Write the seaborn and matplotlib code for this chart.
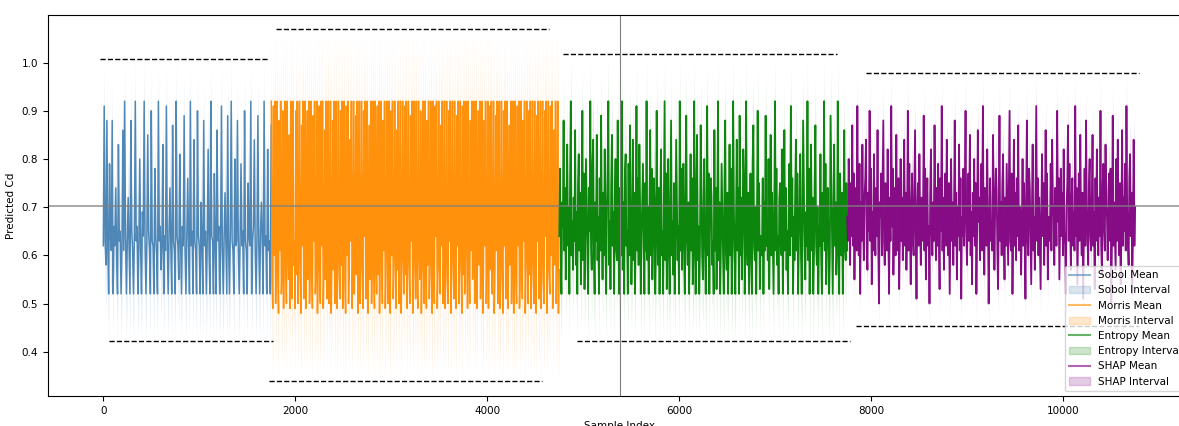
import numpy as np
import pandas as pd
import matplotlib
matplotlib.use("Agg")
import matplotlib.pyplot as plt
import seaborn as sns
from matplotlib.lines import Line2D
from matplotlib.patches import Patch

# ---------------- data (in hundredths) ----------------
methods = ["Sobol", "Morris", "Entropy", "SHAP"]
colors = ["steelblue", "darkorange", "green", "purple"]

# sample-index range covered by each method
seg_start = [0, 1750, 4750, 7750]
seg_end = [1749, 4749, 7749, 10749]

sobol_mean = [62, 91, 63, 58, 88, 62, 52, 79, 64, 61, 88, 52, 66, 62, 74, 60, 52, 83, 63, 65,
              52, 62, 86, 61, 92, 64, 52, 63, 72, 62, 52, 88, 65, 61, 52, 64, 92, 63, 66, 52,
              62, 80, 61, 52, 69, 64, 92, 62, 52, 63, 85, 65, 61, 52, 90, 63, 62, 52, 78, 64,
              60, 52, 92, 63, 66, 57, 62, 83, 52, 64, 61, 91, 63, 52, 65, 74, 62, 52, 87, 63,
              61, 52, 92, 64, 62, 55, 81, 63, 52, 66, 62, 89, 61, 52, 64, 76, 63, 52, 92, 62,
              65, 52, 84, 63, 61, 52, 90, 64, 62, 52, 71, 63, 52, 88, 62, 65, 52, 63, 82, 61,
              52, 92, 64, 63, 52, 77, 62, 52, 86, 63, 66, 52, 62, 91, 61, 52, 64, 73, 63, 52,
              89, 62, 52, 65, 92, 63, 61, 52, 80, 62,
              63, 88, 61, 52, 64, 79, 62, 65, 52, 90, 63, 61, 52, 75, 64, 62, 92, 52, 63, 66,
              84, 61, 52, 64, 89, 62, 52, 65, 71, 63, 52, 92, 62, 64, 52, 82, 61, 63, 52, 87]

morris_mean = [92, 55, 49, 91, 60, 92, 50, 63, 92, 58, 48, 88, 61, 92, 52, 57, 90, 49, 64, 92,
               59, 50, 92, 62, 55, 85, 49, 92, 60, 51, 92, 58, 63, 49, 90, 56, 92, 50, 61, 92,
               57, 48, 87, 62, 92, 51, 59, 92, 49, 64, 90, 55, 92, 50, 60, 92, 58, 49, 89, 63,
               92, 52, 56, 92, 48, 61, 91, 57, 50, 92, 62, 92, 49, 58, 86, 55, 92, 51, 64, 92,
               50, 59, 92, 48, 60, 88, 57, 92, 50, 63, 92, 49, 56, 92, 61, 51, 90, 58, 92, 49,
               62, 92, 55, 48, 91, 60, 92, 50, 57, 84, 63, 92, 49, 59, 92, 52, 61, 89, 56, 92,
               48, 62, 92, 50, 58, 92, 60, 49, 90, 64, 92, 51, 57, 92, 48, 61, 87, 55, 92, 50,
               63, 92, 58, 49, 92, 60, 52, 91, 56, 92, 48, 62, 92, 59, 50, 88, 61, 92, 49, 57,
               92, 63, 50, 92, 55, 48, 90, 60, 92, 51, 58, 92, 62, 49, 86, 57, 92, 50, 64, 92,
               48, 59, 92, 61, 52, 91, 56, 92, 49, 60, 92, 58, 50, 89, 63, 92, 48, 57, 92, 61,
               51, 92, 59, 49, 92, 62, 55, 90, 48, 60, 92, 57, 50, 92, 63, 49, 88, 58, 92, 51,
               61, 92, 56, 48, 92, 60, 50, 91, 64, 92, 49, 57, 92, 59, 52, 87, 62, 92, 50, 58,
               92, 49, 61, 92, 55, 50, 90, 63, 92, 48, 59, 92, 60, 51, 92, 57, 49, 89, 62, 92,
               50, 58, 92, 61, 48, 91, 56, 92, 52, 60, 92, 63, 49, 92, 58, 50, 88, 61, 92, 55,
               61, 92, 50, 57, 92, 49, 63, 90, 58, 92, 51, 60, 92, 48, 56, 88, 62, 92, 50, 59,
               92, 49, 64, 91, 57, 92, 52, 60, 92, 48, 58, 89, 61, 92, 50, 63, 92, 49, 56, 92,
               60, 48, 90, 62, 92, 51, 57, 92, 49, 61, 87, 58, 92, 50, 64, 92, 48, 59, 92, 55,
               50, 91, 62, 92, 49, 57, 92, 60, 51, 88, 63, 92, 48, 58, 92, 61, 50, 90, 56, 92,
               49, 62, 92, 57, 50, 92, 60, 48, 89, 63, 92, 51, 58, 92, 49, 61, 92, 55, 50, 90,
               64, 92, 48, 59, 92, 57, 52, 91, 60, 92, 49, 62, 86, 58, 92, 50, 61, 92, 48, 57]

entropy_mean = [64, 78, 59, 52, 71, 66, 88, 61, 74, 55, 68, 83, 62, 70, 52, 76, 92, 60, 67, 57,
                72, 63, 86, 58, 69, 52, 75, 81, 61, 73, 54, 66, 90, 59, 77, 53, 64, 80, 70, 60,
                52, 74, 65, 92, 62, 57, 79, 84, 60, 52, 71, 63, 85, 59, 68, 52, 76, 61, 89, 66,
                55, 73, 60, 82, 64, 52, 70, 78, 92, 58, 67, 53, 75, 85, 62, 69, 52, 72, 80, 61,
                59, 88, 66, 52, 74, 68, 60, 92, 57, 71, 52, 77, 81, 62, 65, 52, 79, 60, 87, 68,
                54, 63, 84, 59, 73, 52, 66, 91, 61, 76, 58, 83, 70, 52, 64, 72, 79, 62, 52, 75,
                61, 92, 59, 70, 52, 67, 86, 60, 78, 55, 63, 76, 71, 52, 61, 90, 68, 58, 74, 52,
                69, 82, 60, 65, 52, 73, 92, 59, 77, 53, 64, 80, 61, 52, 70, 88, 60, 67, 56, 75,
                52, 62, 84, 72, 59, 66, 52, 92, 61, 78, 57, 69, 79, 60, 52, 74, 89, 63, 58, 71,
                52, 65, 81, 61, 76, 54, 60, 92, 68, 52, 73, 85, 59, 66, 52, 62, 87, 75, 60, 55,
                70, 80, 61, 52, 64, 91, 60, 77, 52, 68, 76, 72, 58, 63, 52, 86, 61, 74, 53, 66,
                92, 59, 71, 52, 62, 79, 69, 60, 52, 75, 88, 61, 57, 73, 52, 64, 83, 60, 78, 52,
                62, 92, 70, 59, 52, 67, 84, 61, 74, 52, 89, 60, 72, 55, 65, 82, 77, 52, 61, 92,
                66, 58, 73, 52, 64, 77, 60, 52, 79, 87, 62, 59, 70, 52, 68, 90, 61, 75, 53, 64,
                63, 60, 76, 52, 71, 61, 89, 62, 67, 59, 80, 53, 66, 85, 60, 73, 62, 52, 69, 92,
                61, 78, 58, 64, 52, 72, 75, 62, 60, 82, 52, 67, 86, 61, 74, 57, 65, 52, 70, 79,
                60, 91, 64, 76, 52, 68, 59, 73, 84, 61, 77, 52, 63, 71, 81, 60, 52, 66, 88, 74,
                61, 55, 69, 62, 92, 59, 78, 52, 64, 83, 61, 72, 52, 60, 75, 87, 62, 58, 70, 52,
                66, 62, 81, 60, 52, 73, 63, 92, 61, 79, 54, 67, 74, 64, 52, 60, 89, 76, 61, 52,
                68, 83, 62, 71, 56, 61, 92, 65, 52, 77, 70, 60, 73, 52, 66, 86, 62, 59, 75, 61]

shap_mean = [68, 63, 80, 72, 58, 75, 64, 87, 62, 77, 55, 70, 74, 61, 91, 66, 60, 79, 52, 71,
             63, 83, 67, 59, 72, 76, 84, 62, 57, 73, 65, 90, 63, 78, 54, 69, 61, 81, 67, 60,
             74, 64, 86, 62, 50, 71, 68, 77, 60, 73, 88, 63, 58, 75, 70, 61, 82, 65, 52, 72,
             63, 91, 66, 78, 56, 69, 74, 60, 85, 67, 61, 76, 53, 65, 80, 63, 72, 59, 70, 84,
             62, 73, 57, 66, 90, 61, 79, 65, 54, 71, 77, 63, 60, 74, 86, 64, 51, 69, 75, 62,
             81, 67, 58, 72, 70, 63, 89, 61, 78, 55, 68, 76, 62, 66, 50, 73, 82, 65, 60, 71,
             63, 87, 70, 59, 74, 62, 79, 64, 53, 76, 65, 91, 61, 72, 57, 68, 77, 62, 84, 66,
             60, 75, 52, 65, 80, 63, 71, 58, 69, 88, 62, 73, 55, 70, 64, 83, 61, 76, 51, 68,
             64, 78, 62, 74, 90, 65, 58, 71, 77, 63, 85, 60, 69, 54, 73, 64, 80, 62, 75, 52,
             65, 86, 67, 72, 59, 70, 79, 61, 91, 66, 56, 74, 70, 62, 82, 68, 50, 65, 76, 63,
             67, 61, 85, 73, 57, 70, 78, 74, 62, 53, 68, 89, 63, 71, 60, 75, 81, 64, 55, 72,
             62, 79, 69, 58, 74, 90, 63, 61, 77, 52, 65, 84, 62, 73, 59, 76, 64, 87, 61, 70,
             69, 56, 66, 80, 62, 75, 65, 51, 72, 88, 63, 60, 78, 74, 64, 54, 70, 83, 61, 68,
             57, 73, 91, 63, 76, 60, 72, 62, 53, 69, 81, 64, 75, 58, 70, 86, 62, 77, 55, 68,
             66, 63, 79, 61, 84, 71, 68, 58, 74, 71, 62, 90, 67, 76, 55, 66, 78, 64, 73, 60,
             82, 65, 62, 52, 70, 75, 87, 63, 79, 66, 57, 72, 76, 62, 69, 61, 91, 64, 74, 54,
             65, 77, 63, 85, 67, 60, 73, 51, 64, 78, 62, 88, 70, 63, 58, 75, 80, 64, 61, 71,
             85, 62, 69, 53, 76, 63, 82, 66, 60, 72, 64, 90, 62, 56, 74, 79, 65, 61, 83, 70,
             68, 59, 73, 77, 63, 78, 50, 65, 89, 62, 71, 64, 57, 80, 63, 84, 66, 60, 75, 54,
             64, 86, 62, 72, 65, 79, 61, 91, 69, 63, 58, 76, 81, 64, 73, 52, 65, 84, 62, 70]

# interval half-widths below / above the mean
interval_below = [0.095, 0.142, 0.095, 0.052]
interval_above = [0.085, 0.145, 0.093, 0.068]

# dashed bound lines: y value, x start, x end
upper_bound_y = [1.008, 1.070, 1.018, 0.979]
upper_bound_x0 = [-35, 1800, 4790, 7950]
upper_bound_x1 = [1730, 4640, 7640, 10790]
lower_bound_y = [0.422, 0.339, 0.422, 0.454]
lower_bound_x0 = [60, 1730, 4935, 7845]
lower_bound_x1 = [1770, 4570, 7780, 10790]

reference_y = 0.703
marker_x = 5380

mean_series = [sobol_mean, morris_mean, entropy_mean, shap_mean]
line_widths = [1.1, 1.1, 1.3, 1.3]

# ---------------- figure ----------------
fig = plt.figure(figsize=(11.79, 4.26), dpi=100)
ax = fig.add_axes([48 / 1179, 30 / 426, 1143 / 1179, 381 / 426])

frames = []
for m, vals, s, e in zip(methods, mean_series, seg_start, seg_end):
    v = np.array(vals, dtype=float) / 100.0
    frames.append(pd.DataFrame({"sample": np.linspace(s, e, len(v)), "mean": v, "method": m}))
df = pd.concat(frames, ignore_index=True)

handles = []
for i, (m, c) in enumerate(zip(methods, colors)):
    d = df[df["method"] == m]
    ax.fill_between(d["sample"], d["mean"] - interval_below[i], d["mean"] + interval_above[i],
                    color=c, alpha=0.15, linewidth=0)
    sns.lineplot(data=d, x="sample", y="mean", color=c, linewidth=line_widths[i], alpha=0.95,
                 estimator=None, ax=ax, legend=False)
    ax.hlines(upper_bound_y[i], upper_bound_x0[i], upper_bound_x1[i], colors="black",
              linestyles="--", linewidth=1.0)
    ax.hlines(lower_bound_y[i], lower_bound_x0[i], lower_bound_x1[i], colors="black",
              linestyles="--", linewidth=1.0)
    handles.append(Line2D([0], [0], color=c, lw=1.5, alpha=0.6, label=f"{m} Mean"))
    handles.append(Patch(facecolor=c, edgecolor=c, alpha=0.2, label=f"{m} Interval"))

ax.axhline(reference_y, color="gray", linewidth=1.2, alpha=0.8)
ax.axvline(marker_x, color="gray", linewidth=0.8)

ax.set_ylim(0.308, 1.099)
ax.set_xlabel("Sample Index", fontsize=7.5)
ax.set_ylabel("Predicted Cd", fontsize=7.5)
ax.tick_params(labelsize=7.5)
ax.legend(handles=handles, loc="lower right", fontsize=7.5)

fig.savefig("out.png", dpi=100)
